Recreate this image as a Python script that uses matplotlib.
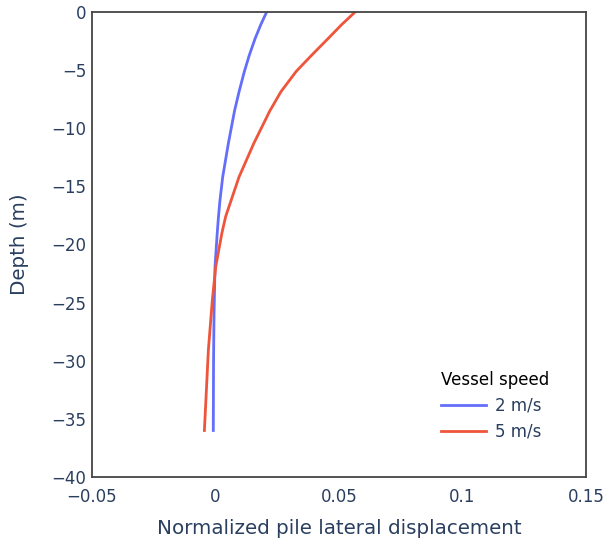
import matplotlib.pyplot as plt

# depth (m) and normalized lateral displacement
depth_2 = [0, -1.1, -2.3, -3.7, -5.1, -6.8, -8.5, -11.3, -14.2, -16.2, -17.6, -19, -21.9, -26, -30, -36]
disp_2 = [0.0207, 0.0183, 0.016, 0.0137, 0.0117, 0.0096, 0.0077, 0.0052, 0.0029, 0.0018, 0.0012, 0.0007,
          -0.0002, -0.0006, -0.0008, -0.0009]

depth_5 = [0, -1.1, -2.3, -3.7, -5.1, -6.85, -8.5, -11.3, -14.2, -17.6, -19, -21.9, -24.8, -29.1, -36]
disp_5 = [0.0565, 0.051, 0.0455, 0.039, 0.0327, 0.0265, 0.022, 0.0155, 0.0095, 0.0041, 0.0026,
          0.0001, -0.0013, -0.0029, -0.0045]

xticks = [-0.05, 0, 0.05, 0.1, 0.15]
xtick_labels = ['\u22120.05', '0', '0.05', '0.1', '0.15']
yticks = list(range(-40, 1, 5))

text_color = '#2a3f5f'

fig = plt.figure(figsize=(6.07, 5.46), dpi=100)
ax = fig.add_axes([0.1516, 0.1264, 0.8138, 0.8516])

ax.plot(disp_2, depth_2, color='#636efa', lw=2, label='2 m/s', solid_joinstyle='round')
ax.plot(disp_5, depth_5, color='#EF553B', lw=2, label='5 m/s', solid_joinstyle='round')

ax.set_xlim(-0.05, 0.15)
ax.set_ylim(-40, 0)
ax.set_xticks(xticks)
ax.set_xticklabels(xtick_labels)
ax.set_yticks(yticks)
ax.set_yticklabels(['\u2212%d' % -v if v < 0 else '0' for v in yticks])
ax.tick_params(length=0, labelsize=12, labelcolor=text_color)
ax.tick_params(axis='x', pad=8)
ax.tick_params(axis='y', pad=4)

for s in ax.spines.values():
    s.set_color('#444444')
    s.set_linewidth(1.3)

ax.set_xlabel('Normalized pile lateral displacement', fontsize=14.3, color=text_color, labelpad=9)
ax.set_ylabel('Depth (m)', fontsize=14.3, color=text_color, labelpad=16)

leg = ax.legend(title='Vessel speed', loc='upper left', frameon=False,
                fontsize=12, title_fontsize=12, bbox_to_anchor=(0.69, 0.245),
                handlelength=2.7, handletextpad=0.5, labelspacing=0.45,
                labelcolor=text_color, borderpad=0)
leg._legend_box.align = 'left'

fig.savefig('out.png', dpi=100)
